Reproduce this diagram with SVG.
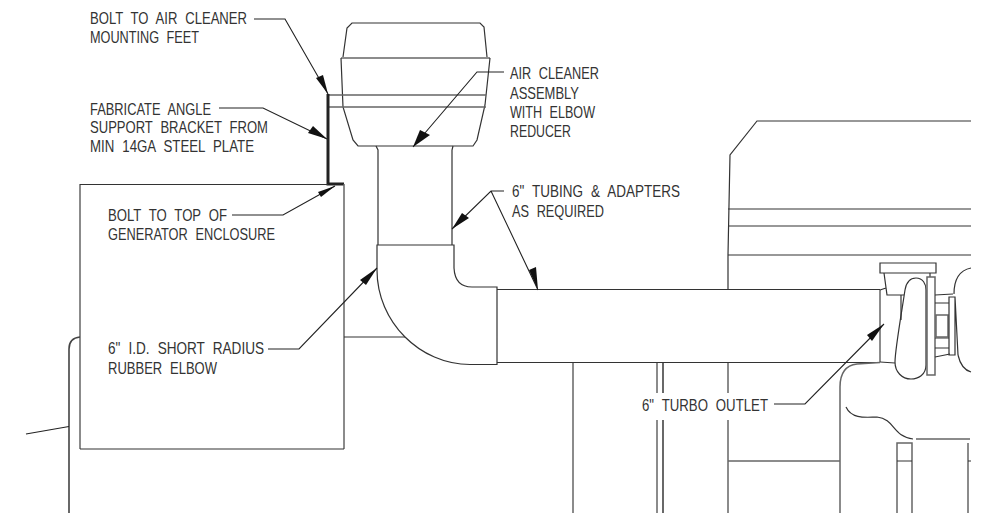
<svg xmlns="http://www.w3.org/2000/svg" width="988" height="513" viewBox="0 0 988 513">
<style>
.l{fill:none;stroke:#333;stroke-width:1.2}
.g{fill:none;stroke:#666;stroke-width:1.5}
.c{fill:none;stroke:#222;stroke-width:1.1}
.a{fill:#111;stroke:none}
text{font-family:"Liberation Sans",Arial,sans-serif;font-size:15.7px;fill:#333;word-spacing:5px}
</style>
<rect width="988" height="513" fill="#fff"/>
<g id="air-cleaner">
<path class="l" d="M343,57 L347,28 L352,23 H480 L484,27 L487,57"/>
<path class="g" d="M341,58 H490"/>
<path class="l" d="M341,58 L343,107 L353,140 L358,146 H473 L477,140 L485,105 L490,58"/>
<path class="g" d="M329,95 H486 M329,107 H486"/>
</g>
<g id="bracket"><path fill="none" stroke="#222" stroke-width="3" d="M328,94 V184 H344"/></g>
<g id="enclosure">
<path class="g" d="M344,184 V449 M80,184 V449"/>
<path class="l" d="M80,184.500 H328 M80,449 H344"/>
<path class="l" d="M344,337 H405"/>
<path fill="none" stroke="#444" stroke-width="1.6" d="M69,513 V349 Q69,338 80,337"/>
<path class="c" d="M26,434 L69,426.500"/>
</g>
<g id="tube">
<path class="l" d="M376,146 L378,150 V245 M453,146 L452,150 V245"/>
</g>
<g id="elbow">
<path class="l" d="M377,245 H454 V268 Q455,287 472,287 H497 V364.500 H470 C420,364.500 377,322 377,270 Z"/>
</g>
<g id="pipe">
<path class="l" d="M497,289.500 H880 M497,362.500 H880"/>
<path class="g" d="M880,290 V362"/>
</g>
<g id="generator">
<path class="l" d="M971,121 H757 L730,155 L728,255 V289 M728,209 H971 M728,226 H971"/>
<path class="l" d="M728,255 H971"/>
<path class="g" d="M573,363 V513 M657,363 V393 M657,420 V513 M728,363 V393 M728,420 V513"/>
<path fill="none" stroke="#444" stroke-width="1.6" d="M663,363 V393 M663,420 V513"/>
<path class="g" d="M728,461 H840"/>
<path class="g" d="M840,513 V387 Q840,366 857,364 L880,362.500"/>
<path class="l" d="M846,407 C852,420 868,417 877,417 C895,419 893,437 913,439"/>
<path class="g" d="M916,439 H970 M897,513 V443 H912 V513 M968,443 V513"/>
<path class="l" d="M897,461 H912 M968,461 H971"/>
</g>
<g id="turbo">
<path class="l" d="M880,263 H936 V273 H880 Z"/>
<path class="l" d="M884,273 L887,295 H904 M880,290 L886,288 M880,362 L895,363"/>
<path class="l" d="M901,295 V320"/>
<path class="l" d="M905,290 Q907,278 916,278 C923,278 926,284 926,290 V365 C926,375 918,379 911,379 C902,379 895,372 895,362 C895,350 902,310 905,290 Z"/>
<path class="l" d="M930,273 V277"/>
<path class="g" d="M927,277 H935 V375 H927 Z"/>
<path class="l" d="M935,295 L953,294 M935,357 L950,354 M935,303 H949 M935,338 H949 M935,348 H949"/>
<path class="g" d="M936,315 H948 V337 H936 Z"/>
<path class="l" d="M949,297 H955 V355 H949 Z M955,297 L958,355"/>
<path class="l" d="M971,268 C961,270 954,278 954,294 M958,355 C960,364 964,370 971,372"/>
</g>
<g id="connectors">
<path class="c" d="M254,19 H285 L328,94"/><path class="a" d="M328,94 L316,78 L323,75 Z"/>
<path class="c" d="M219,108 H263 L327,139"/><path class="a" d="M327,139 L308,133 L313,126 Z"/>
<path class="c" d="M232,215 H283 L335,186"/><path class="a" d="M335,186 L318,192 L321,197 Z"/>
<path class="c" d="M504,72 H477 L413,147"/><path class="a" d="M413,147 L420,130 L430,135 Z"/>
<path class="c" d="M504,191 H491 L452,229 M491,191 L538,290"/><path class="a" d="M452,229 L462,213 L469,218 Z M538,290 L529,270 L536,267 Z"/>
<path class="c" d="M268,349 H299 L377,268"/><path class="a" d="M377,268 L360,280 L366,285 Z"/>
<path class="c" d="M774,404 H805 L884,324"/><path class="a" d="M884,324 L867,335 L872,341 Z"/>
</g>
<g id="labels">
<text x="90" y="24" textLength="157" lengthAdjust="spacingAndGlyphs">BOLT TO AIR CLEANER</text>
<text x="90" y="43" textLength="109" lengthAdjust="spacingAndGlyphs">MOUNTING FEET</text>
<text x="90" y="115" textLength="121" lengthAdjust="spacingAndGlyphs">FABRICATE ANGLE</text>
<text x="90" y="133" textLength="178" lengthAdjust="spacingAndGlyphs">SUPPORT BRACKET FROM</text>
<text x="90" y="152" textLength="164" lengthAdjust="spacingAndGlyphs">MIN 14GA STEEL PLATE</text>
<text x="108" y="221" textLength="119" lengthAdjust="spacingAndGlyphs">BOLT TO TOP OF</text>
<text x="108" y="240" textLength="167" lengthAdjust="spacingAndGlyphs">GENERATOR ENCLOSURE</text>
<text x="510" y="79" textLength="89" lengthAdjust="spacingAndGlyphs">AIR CLEANER</text>
<text x="510" y="99" textLength="69" lengthAdjust="spacingAndGlyphs">ASSEMBLY</text>
<text x="510" y="118" textLength="85" lengthAdjust="spacingAndGlyphs">WITH ELBOW</text>
<text x="510" y="137" textLength="61" lengthAdjust="spacingAndGlyphs">REDUCER</text>
<text x="512" y="197" textLength="168" lengthAdjust="spacingAndGlyphs">6" TUBING &amp; ADAPTERS</text>
<text x="512" y="217" textLength="92" lengthAdjust="spacingAndGlyphs">AS REQUIRED</text>
<text x="108" y="354" textLength="156" lengthAdjust="spacingAndGlyphs">6" I.D. SHORT RADIUS</text>
<text x="108" y="374" textLength="109" lengthAdjust="spacingAndGlyphs">RUBBER ELBOW</text>
<text x="642" y="411" textLength="126" lengthAdjust="spacingAndGlyphs">6" TURBO OUTLET</text>
</g>
</svg>
